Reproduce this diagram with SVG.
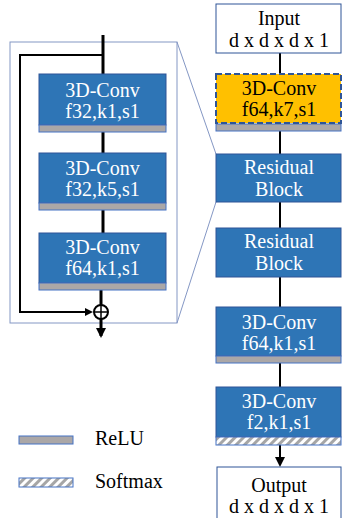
<svg xmlns="http://www.w3.org/2000/svg" width="342" height="518" viewBox="0 0 342 518">
<defs>
<style>
.blue{fill:#2E75B6;stroke:#2F5597;stroke-width:1}
.bar{fill:#ABA7A7;stroke:#4472C4;stroke-width:1}
.hatch{fill:url(#hatch);stroke:#4472C4;stroke-width:1}
.wbox{fill:#fff;stroke:#2F5597;stroke-width:1}
.wt{font-family:"Liberation Serif","Times New Roman",serif;font-size:20px;fill:#fff;text-anchor:middle}
.bt{font-family:"Liberation Serif","Times New Roman",serif;font-size:20px;fill:#000;text-anchor:middle}
.lt{font-family:"Liberation Serif","Times New Roman",serif;font-size:20px;fill:#000}
.thick{stroke:#000;stroke-width:3;fill:none}
.thin{stroke:#000;stroke-width:2;fill:none}
.panel{fill:none;stroke:#8497C4;stroke-width:1}
</style>
<pattern id="hatch" patternUnits="userSpaceOnUse" width="6" height="6" patternTransform="rotate(45)">
<rect width="6" height="6" fill="#fff"/>
<rect width="3" height="6" fill="#A6A6A6"/>
</pattern>
<marker id="ah" markerWidth="8" markerHeight="8" refX="6" refY="4" orient="auto" markerUnits="userSpaceOnUse">
<path d="M0,0 L8,4 L0,8 z" fill="#000"/>
</marker>
<marker id="ah2" markerWidth="10" markerHeight="10" refX="8" refY="5" orient="auto" markerUnits="userSpaceOnUse">
<path d="M0,0 L10,5 L0,10 z" fill="#000"/>
</marker>
</defs>

<g id="panel">
<rect x="10" y="42" width="167" height="281" class="panel"/>
<line x1="177" y1="42" x2="216" y2="154" class="panel"/>
<line x1="177" y1="323" x2="216" y2="202" class="panel"/>
</g>

<g id="connectors">
<line x1="103" y1="35" x2="103" y2="74" class="thick"/>
<polyline points="103,55 20,55 20,312 91,312" stroke="#000" stroke-width="2" fill="none" marker-end="url(#ah)"/>
<line x1="103" y1="132" x2="103" y2="153" class="thick"/>
<line x1="103" y1="210" x2="103" y2="233" class="thick"/>
<line x1="101" y1="290" x2="101" y2="305" class="thick"/>
<line x1="101" y1="319" x2="101" y2="336" stroke="#000" stroke-width="3" marker-end="url(#ah2)"/>
<line x1="280" y1="53" x2="280" y2="74" class="thin"/>
<line x1="280" y1="131" x2="280" y2="154" class="thin"/>
<line x1="280" y1="202" x2="280" y2="228" class="thin"/>
<line x1="280" y1="277" x2="280" y2="307" class="thin"/>
<line x1="280" y1="363" x2="280" y2="387" class="thin"/>
<line x1="280" y1="445" x2="280" y2="465" stroke="#000" stroke-width="2" marker-end="url(#ah2)"/>
</g>

<g id="add">
<circle cx="101" cy="312" r="7" fill="#fff" stroke="#000" stroke-width="2"/>
<line x1="94" y1="312" x2="108" y2="312" stroke="#000" stroke-width="1.5"/>
<line x1="101" y1="305" x2="101" y2="319" stroke="#000" stroke-width="1.5"/>
</g>

<g id="rb-conv1">
<rect x="39" y="74" width="127" height="51" class="blue"/>
<rect x="39" y="125" width="127" height="7" class="bar"/>
<text x="102.5" y="97" class="wt">3D-Conv</text>
<text x="102.5" y="118" class="wt">f32,k1,s1</text>
</g>
<g id="rb-conv2">
<rect x="39" y="153" width="127" height="50" class="blue"/>
<rect x="39" y="203" width="127" height="7" class="bar"/>
<text x="102.5" y="175" class="wt">3D-Conv</text>
<text x="102.5" y="196" class="wt">f32,k5,s1</text>
</g>
<g id="rb-conv3">
<rect x="39" y="233" width="127" height="50" class="blue"/>
<rect x="39" y="283" width="127" height="7" class="bar"/>
<text x="102.5" y="254" class="wt">3D-Conv</text>
<text x="102.5" y="275" class="wt">f64,k1,s1</text>
</g>

<g id="input">
<rect x="216" y="4" width="125" height="49" class="wbox"/>
<text x="279" y="25" class="bt">Input</text>
<text x="279" y="47" class="bt">d x d x d x 1</text>
</g>
<g id="conv-k7">
<rect x="216" y="124" width="125" height="7" class="bar"/>
<rect x="216" y="74" width="125" height="49" fill="#FFC000" stroke="#2F5597" stroke-width="2" stroke-dasharray="6,3"/>
<text x="279" y="95" class="bt">3D-Conv</text>
<text x="279" y="116" class="bt">f64,k7,s1</text>
</g>
<g id="res1">
<rect x="216" y="154" width="125" height="48" class="blue"/>
<text x="279" y="174" class="wt">Residual</text>
<text x="279" y="196" class="wt">Block</text>
</g>
<g id="res2">
<rect x="216" y="228" width="125" height="49" class="blue"/>
<text x="279" y="248" class="wt">Residual</text>
<text x="279" y="270" class="wt">Block</text>
</g>
<g id="conv-f64">
<rect x="216" y="307" width="125" height="49" class="blue"/>
<rect x="216" y="356" width="125" height="7" class="bar"/>
<text x="279" y="329" class="wt">3D-Conv</text>
<text x="279" y="350" class="wt">f64,k1,s1</text>
</g>
<g id="conv-f2">
<rect x="216" y="387" width="125" height="50" class="blue"/>
<rect x="216" y="437" width="125" height="8" class="hatch"/>
<text x="279" y="408" class="wt">3D-Conv</text>
<text x="279" y="429" class="wt">f2,k1,s1</text>
</g>
<g id="output">
<rect x="217" y="467" width="124" height="60" class="wbox"/>
<text x="279" y="492" class="bt">Output</text>
<text x="279" y="513" class="bt">d x d x d x 1</text>
</g>

<g id="legend">
<rect x="19" y="436" width="54" height="8" class="bar"/>
<text x="95" y="445" class="lt">ReLU</text>
<rect x="19" y="478" width="54" height="9" class="hatch"/>
<text x="95" y="488" class="lt">Softmax</text>
</g>
</svg>
